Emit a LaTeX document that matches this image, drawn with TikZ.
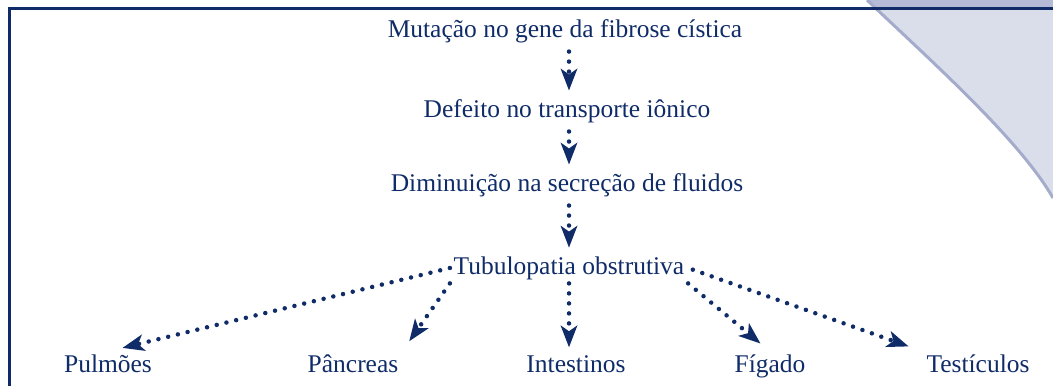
\documentclass[tikz,border=0pt]{standalone}
\usepackage{fontspec}
\setmainfont{Liberation Serif}
\usetikzlibrary{arrows.meta, positioning, calc}
\definecolor{azulfc}{RGB}{16,44,104}
\definecolor{cinzafc}{RGB}{218,222,234}
\definecolor{bordafc}{RGB}{165,172,203}
\definecolor{faixafc}{RGB}{181,187,214}

\tikzset{
  etapa/.style={text=azulfc, inner sep=2pt},
  orgao/.style={etapa, anchor=base},
  seta/.style={azulfc, line width=0.09cm, line cap=round,
    dash pattern=on 0pt off 0.2cm,
    -{Stealth[length=0.44cm, width=0.34cm, inset=0.12cm, line width=0pt]}}
}

\begin{document}
\begin{tikzpicture}[font=\fontsize{14.5}{17}\selectfont]
    \useasboundingbox (0,0) rectangle (21.06,7.72);
    % canto sombreado
    \fill[cinzafc] (17.34,7.72) .. controls (18.6,6.52) and (20.4,4.92) .. (21.06,3.76)
        -- (21.06,7.72) -- cycle;
    \begin{scope}
        \clip (17.34,7.72) .. controls (18.6,6.52) and (20.4,4.92) .. (21.06,3.76)
            -- (21.06,7.72) -- cycle;
        \fill[faixafc] (17,7.55) rectangle (21.06,7.72);
    \end{scope}
    \draw[bordafc, line width=0.06cm] (17.34,7.72) .. controls (18.6,6.52) and (20.4,4.92) .. (21.06,3.76);
    % moldura
    \draw[azulfc, line width=0.06cm] (0.2,0) -- (0.2,7.55) -- (21.06,7.55);

    \node[etapa] (mut) at (11.3,7.1) {Mutação no gene da fibrose cística};
    \node[etapa] (def) at (11.34,5.5) {Defeito no transporte iônico};
    \node[etapa] (dim) at (11.34,4.02) {Diminuição na secreção de fluidos};
    \node[etapa] (tub) at (11.38,2.36) {Tubulopatia obstrutiva};

    \foreach \x/\nome/\txt in {
        2.16/pul/{Pulmões},
        7.06/pan/{Pâncreas},
        11.52/int/{Intestinos},
        15.4/fig/{Fígado},
        19.56/tes/{Testículos}}
    {
        \node[orgao] (\nome) at (\x,0.26) {\txt};
    }

    \draw[seta, shorten <=0.1cm, shorten >=0.1cm] (mut.south -| tub) -- (def.north -| tub);
    \draw[seta, shorten <=0.1cm, shorten >=0.1cm] (def.south -| tub) -- (dim.north -| tub);
    \draw[seta, shorten <=0.1cm, shorten >=0.1cm] (dim.south -| tub) -- (tub.north);

    \draw[seta, shorten >=0.3cm] (tub.west) -- (pul.north);
    \draw[seta, shorten >=0.25cm] (tub.south west) -- (pan.north east);
    \draw[seta, shorten >=0.1cm] (tub.south) -- (int.north -| tub);
    \draw[seta, shorten >=0.25cm] (tub.south east) -- (fig.north);
    \draw[seta, shorten <=0.1cm, shorten >=0.3cm] (tub.east) -- (tes.north west);
\end{tikzpicture}
\end{document}
